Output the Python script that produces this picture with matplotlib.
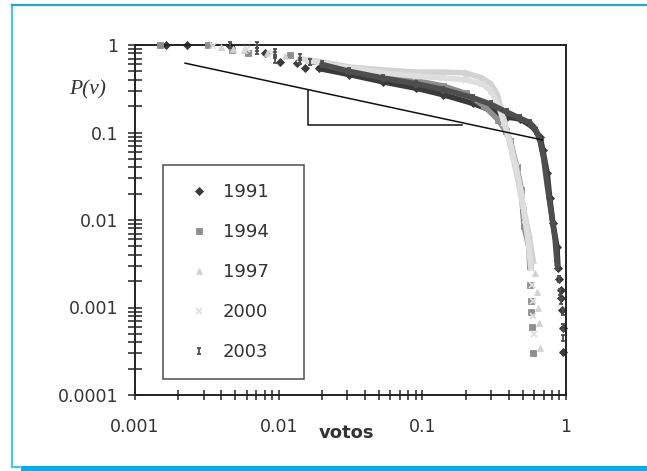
import matplotlib
matplotlib.use("Agg")
import matplotlib.pyplot as plt
from matplotlib.path import Path
from matplotlib.lines import Line2D
from matplotlib.patches import Rectangle
from matplotlib.ticker import LogLocator, FixedLocator, FixedFormatter, NullFormatter

# ---------------- data ----------------
years = ["1991", "1994", "1997", "2000", "2003"]

v_1991 = [0.00165, 0.0023, 0.0046, 0.0080, 0.0102, 0.0134, 0.0152,
          0.019, 0.031, 0.053, 0.091, 0.14, 0.225, 0.30, 0.39, 0.48, 0.59, 0.66,
          0.69, 0.74, 0.77, 0.81, 0.865, 0.88,
          0.893, 0.92, 0.93, 0.935, 0.95, 0.96]
p_1991 = [1.0, 1.0, 0.97, 0.80, 0.64, 0.62, 0.55,
          0.54, 0.46, 0.38, 0.32, 0.27, 0.215, 0.18, 0.15, 0.143, 0.115, 0.088,
          0.063, 0.034, 0.018, 0.0093, 0.0049, 0.0028,
          0.0021, 0.0016, 0.0013, 0.00093, 0.00059, 0.00031]

v_1994 = [0.0015, 0.0032, 0.0047, 0.0061, 0.012, 0.017,
          0.022, 0.031, 0.053, 0.091, 0.14, 0.20, 0.27, 0.336, 0.38, 0.41, 0.455,
          0.49, 0.50, 0.51, 0.55, 0.56,
          0.565, 0.57, 0.575, 0.58, 0.59]
p_1994 = [1.0, 1.0, 0.88, 0.81, 0.77, 0.66,
          0.60, 0.52, 0.45, 0.39, 0.34, 0.28, 0.20, 0.14, 0.105, 0.08, 0.04,
          0.022, 0.013, 0.0085, 0.005, 0.003,
          0.0018, 0.0012, 0.0009, 0.0006, 0.0003]

v_1997 = [0.0040, 0.0048, 0.0057, 0.0083, 0.011,
          0.016, 0.025, 0.031, 0.053, 0.091, 0.14, 0.20, 0.26, 0.30, 0.33, 0.36,
          0.39, 0.42, 0.46, 0.50, 0.55, 0.59,
          0.61, 0.63, 0.64, 0.65, 0.66]
p_1997 = [0.95, 0.90, 0.88, 0.81, 0.75,
          0.68, 0.60, 0.56, 0.52, 0.49, 0.49, 0.48, 0.42, 0.36, 0.28, 0.17,
          0.10, 0.06, 0.03, 0.015, 0.007, 0.0035,
          0.0025, 0.0015, 0.0010, 0.00066, 0.00034]

v_2000 = [0.0035, 0.006, 0.009,
          0.014, 0.025, 0.053, 0.091, 0.14, 0.20, 0.26, 0.30, 0.34, 0.37,
          0.41, 0.45, 0.49, 0.52, 0.55, 0.57,
          0.58, 0.585, 0.59, 0.595]
p_2000 = [0.98, 0.90, 0.80,
          0.70, 0.58, 0.48, 0.44, 0.42, 0.40, 0.36, 0.30, 0.20, 0.13,
          0.075, 0.04, 0.02, 0.01, 0.005, 0.0028,
          0.0018, 0.0012, 0.0008, 0.0005]

v_2003 = [0.0046, 0.0071, 0.0071, 0.0071, 0.0094, 0.0094, 0.0094, 0.0141, 0.0141, 0.0165,
          0.020, 0.031, 0.053, 0.091, 0.14, 0.225, 0.30, 0.39, 0.48, 0.56, 0.62,
          0.66, 0.70, 0.74, 0.79, 0.84, 0.87,
          0.89, 0.91, 0.93, 0.95, 0.955, 0.96]
p_2003 = [1.0, 1.0, 0.93, 0.86, 0.83, 0.76, 0.68, 0.73, 0.65, 0.64,
          0.60, 0.50, 0.42, 0.36, 0.31, 0.25, 0.21, 0.17, 0.145, 0.13, 0.105,
          0.08, 0.05, 0.025, 0.012, 0.006, 0.003,
          0.0021, 0.0015, 0.0012, 0.0009, 0.0006, 0.00045]

guide_v = [0.00223, 0.69]
guide_p = [0.62, 0.082]
tri_v = [0.016, 0.016, 0.189]
tri_p = [0.306, 0.122, 0.122]

x_ticks = [0.001, 0.01, 0.1, 1]
x_tick_labels = ["0.001", "0.01", "0.1", "1"]
y_ticks = [0.0001, 0.001, 0.01, 0.1, 1]
y_tick_labels = ["0.0001", "0.001", "0.01", "0.1", "1"]
x_label = "votos"
y_label = "P(v)"

series = {
    "1991": (v_1991, p_1991),
    "1994": (v_1994, p_1994),
    "1997": (v_1997, p_1997),
    "2000": (v_2000, p_2000),
    "2003": (v_2003, p_2003),
}

# ---------------- styles ----------------
ibeam = Path([(-0.6, 1), (0.6, 1), (0, 1), (0, -1), (-0.6, -1), (0.6, -1)],
             [Path.MOVETO, Path.LINETO, Path.MOVETO, Path.LINETO, Path.MOVETO, Path.LINETO])

style = {
    # color, marker, markersize, head count (sparse), tail count (sparse)
    "1991": dict(color="#3a3a3a", marker="D", ms=4.2, head=7, tail=6),
    "1994": dict(color="#8e8e8e", marker="s", ms=4.6, head=6, tail=5),
    "1997": dict(color="#d2d2d2", marker="^", ms=4.6, head=5, tail=5),
    "2000": dict(color="#dedede", marker="x", ms=4.2, head=3, tail=4),
    "2003": dict(color="#4e4e4e", marker=ibeam, ms=5.0, head=10, tail=6),
}

text_color = "#333333"
plt.rcParams["font.family"] = ["DejaVu Sans"]

fig = plt.figure(figsize=(6.47, 4.71), dpi=100)
fig.patch.set_facecolor("white")
ax = fig.add_axes([135 / 647, 76 / 471, 431 / 647, 350 / 471])
ax.set_xscale("log")
ax.set_yscale("log")
ax.set_xlim(0.001, 1)
ax.set_ylim(0.0001, 1)

for i, yr in enumerate(years):
    v, p = series[yr]
    st = style[yr]
    n = len(v)
    band_v = v[st["head"]:n - st["tail"]]
    band_p = p[st["head"]:n - st["tail"]]
    ax.plot(band_v, band_p, color=st["color"], lw=4.0, solid_capstyle="round",
            solid_joinstyle="round", zorder=2 + i)
    mk = dict(ls="none", marker=st["marker"], ms=st["ms"], color=st["color"],
              clip_on=False, zorder=2.5 + i, label=yr)
    if yr in ("2000", "2003"):
        mk.update(mew=1.3)
    else:
        mk.update(mew=0.6)
    ax.plot(v, p, **mk)

ax.plot(guide_v, guide_p, color="#111111", lw=1.1, zorder=10)
ax.plot(tri_v, tri_p, color="#111111", lw=1.1, zorder=10)

# axes styling
for s in ax.spines.values():
    s.set_linewidth(1.4)
    s.set_color("#222222")

ax.xaxis.set_major_locator(FixedLocator(x_ticks))
ax.xaxis.set_major_formatter(FixedFormatter(x_tick_labels))
ax.yaxis.set_major_locator(FixedLocator(y_ticks))
ax.yaxis.set_major_formatter(FixedFormatter(y_tick_labels))
ax.xaxis.set_minor_locator(LogLocator(base=10, subs=range(2, 10), numticks=20))
ax.yaxis.set_minor_locator(LogLocator(base=10, subs=range(2, 10), numticks=20))
ax.xaxis.set_minor_formatter(NullFormatter())
ax.yaxis.set_minor_formatter(NullFormatter())

ax.tick_params(axis="x", which="both", direction="inout", length=7.5, width=1.1,
               color="#222222", labelsize=12.5, labelcolor=text_color, pad=13)
ax.tick_params(axis="y", which="both", direction="inout", length=10, width=1.1,
               color="#222222", labelsize=12.5, labelcolor=text_color, pad=7)
ax.tick_params(top=False, right=False, which="both")

# axis labels as placed in the reference
fig.text(346 / 647, 1 - 433 / 471, x_label, ha="center", va="center",
         fontsize=13, fontweight="bold", color=text_color)
fig.text(88 / 647, 1 - 90 / 471, y_label, ha="center", va="center",
         fontsize=15.5, fontstyle="italic", family=["Liberation Serif"], color=text_color)

leg = ax.legend(loc="upper left", bbox_to_anchor=(28 / 431, 230 / 350, 141 / 431, 0.0),
                mode="expand", frameon=True, fancybox=False, fontsize=13,
                borderpad=1.0, labelspacing=1.22, handlelength=2.0, handletextpad=0.3,
                borderaxespad=0.0, markerscale=1.0)
leg.get_frame().set_edgecolor("#222222")
leg.get_frame().set_linewidth(1.1)
for t in leg.get_texts():
    t.set_color(text_color)

# blue frame around the figure
fig.add_artist(Line2D([12 / 647, 12 / 647], [1 - 5 / 471, 1 - 467 / 471],
                      transform=fig.transFigure, color="#4cc3f1", lw=1.6))
fig.add_artist(Line2D([12 / 647, 21 / 647], [1 - 467 / 471, 1 - 467 / 471],
                      transform=fig.transFigure, color="#4cc3f1", lw=1.6))
fig.add_artist(Line2D([12 / 647, 1.0], [1 - 5 / 471, 1 - 5 / 471],
                      transform=fig.transFigure, color="#1ea6df", lw=1.6))
fig.add_artist(Rectangle((21 / 647, 0), 1 - 21 / 647, 5 / 471,
                         transform=fig.transFigure, color="#00aeef", lw=0))

fig.savefig("out.png", dpi=100, facecolor="white")
